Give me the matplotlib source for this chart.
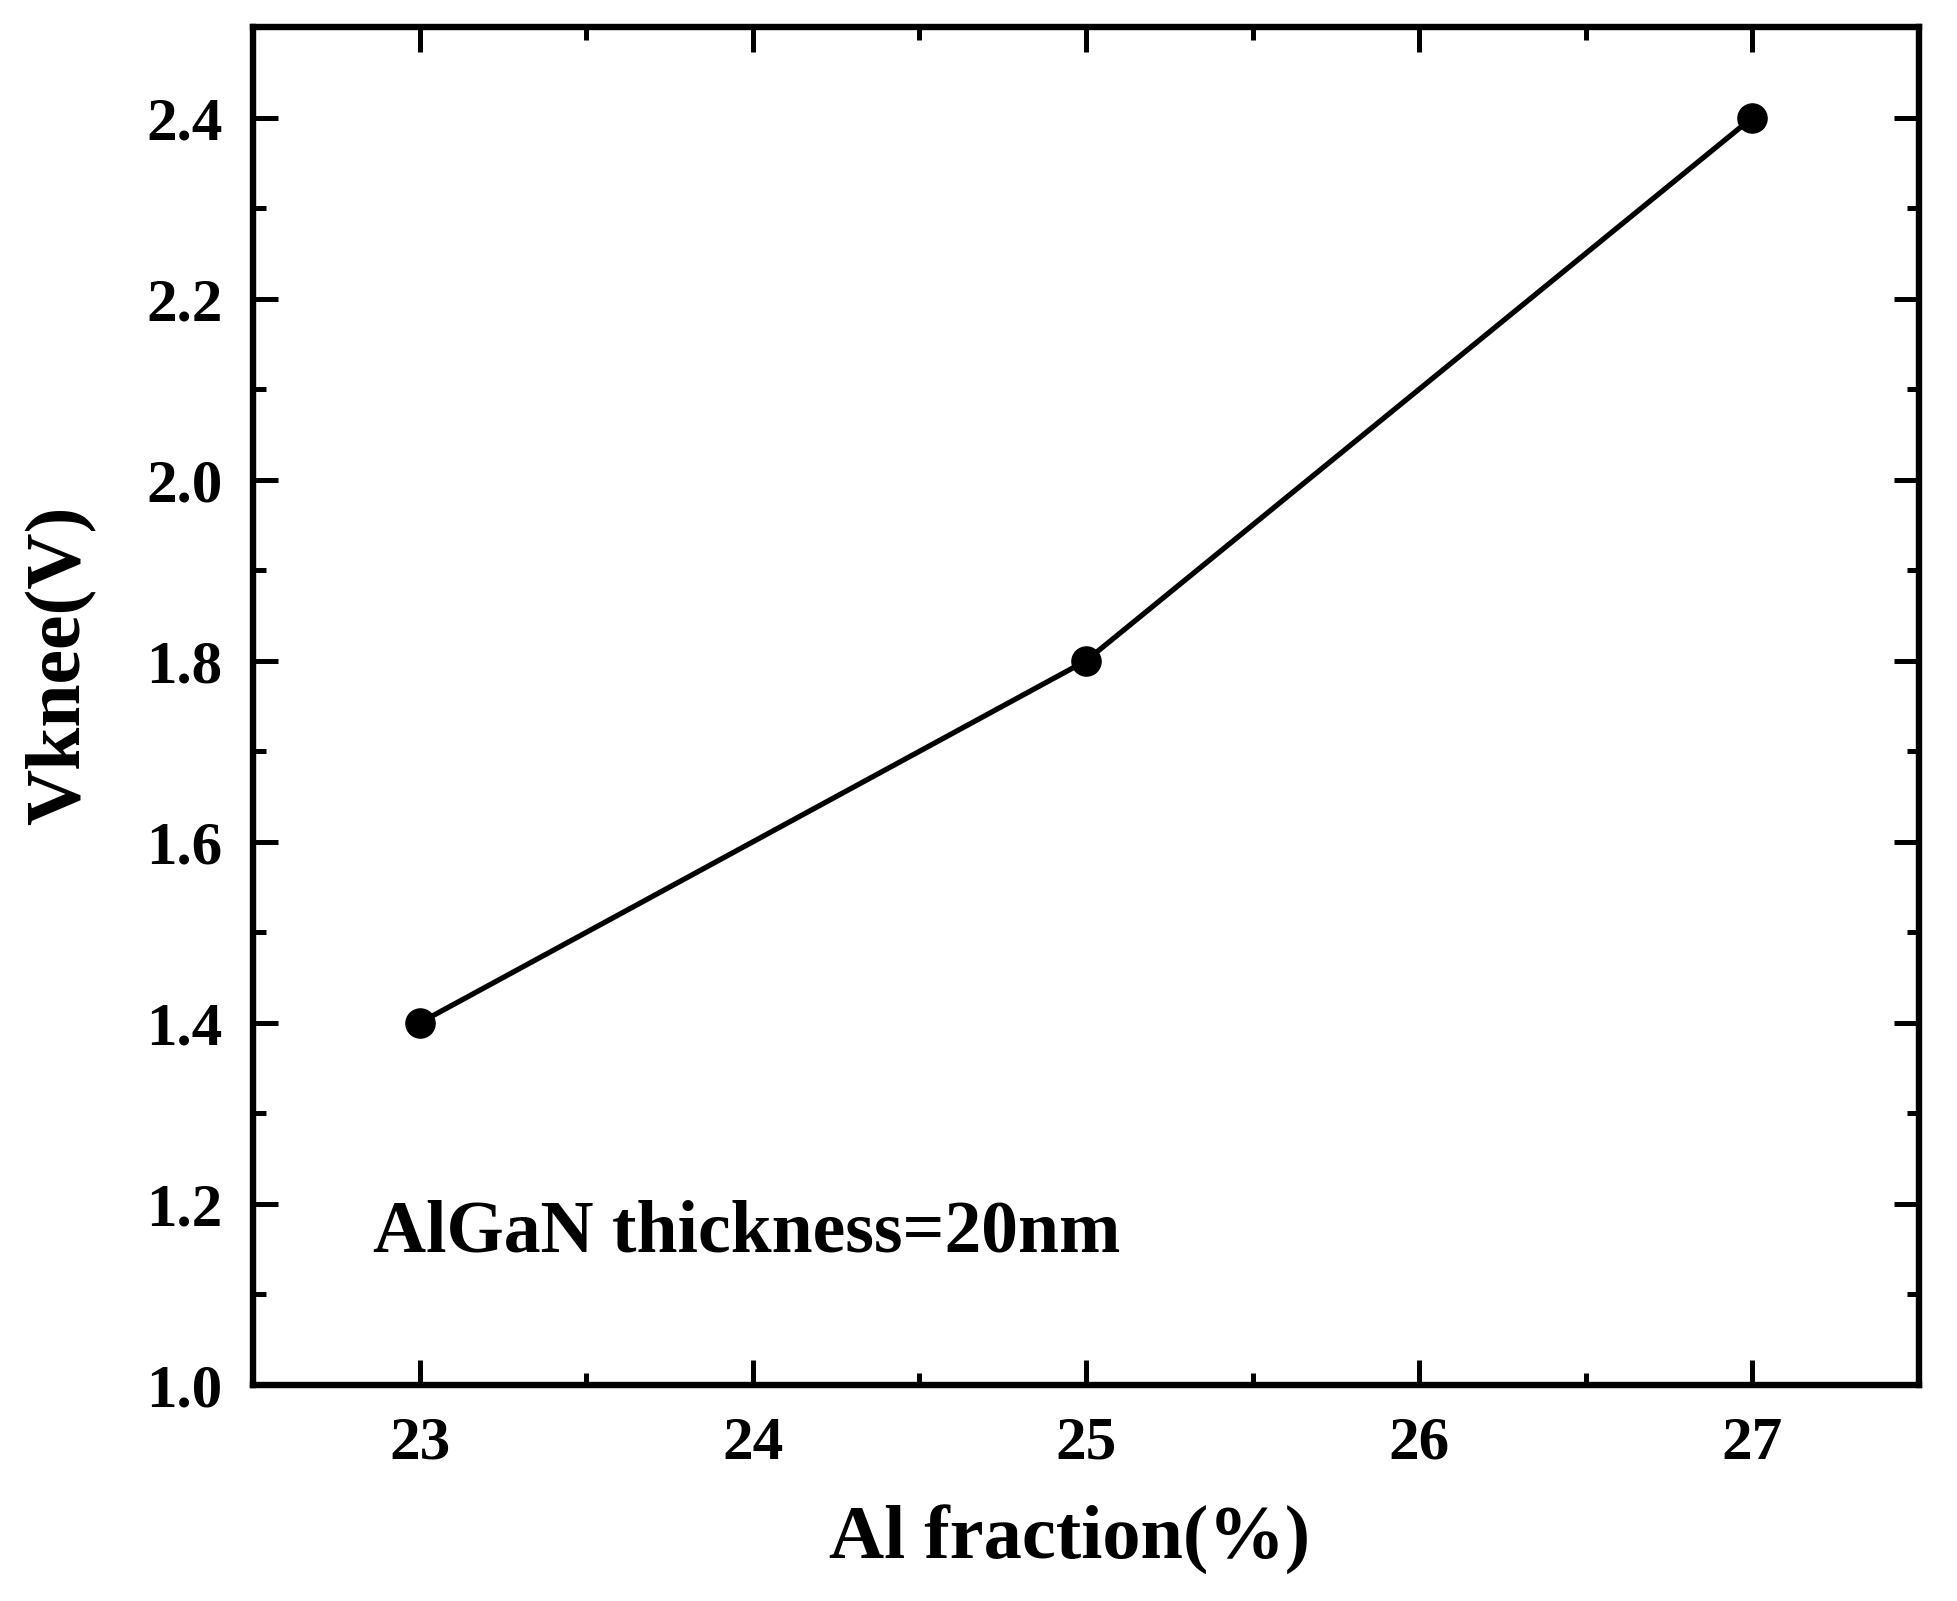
import matplotlib
matplotlib.use("Agg")
import matplotlib.pyplot as plt
from matplotlib.ticker import MultipleLocator

# Дані
al_fraction = [23, 25, 27]
vknee = [1.4, 1.8, 2.4]
x_ticks = [23, 24, 25, 26, 27]
y_ticks = [1.0, 1.2, 1.4, 1.6, 1.8, 2.0, 2.2, 2.4]

plt.rcParams["font.family"] = ["Liberation Serif", "DejaVu Serif"]
plt.rcParams["font.weight"] = "bold"

fig = plt.figure(figsize=(19.57, 16.01), dpi=100)
ax = fig.add_axes([0.1293, 0.1349, 0.8513, 0.8482])

ax.plot(al_fraction, vknee, "k-", linewidth=3.8, marker="o", markersize=21)

ax.set_xlim(22.5, 27.5)
ax.set_ylim(1.0, 2.5)
ax.set_xticks(x_ticks)
ax.set_yticks(y_ticks)
ax.set_xticklabels([str(v) for v in x_ticks])
ax.set_yticklabels([f"{v:.1f}" for v in y_ticks])
ax.xaxis.set_minor_locator(MultipleLocator(0.5))
ax.yaxis.set_minor_locator(MultipleLocator(0.1))

for s in ax.spines.values():
    s.set_linewidth(4.6)

ax.tick_params(which="both", direction="in", top=True, right=True, width=3.6)
ax.tick_params(which="major", length=18, labelsize=44, pad=22)
ax.tick_params(which="minor", length=9)

ax.set_xlabel("Al fraction(%)", fontsize=55, fontweight="bold")
ax.set_ylabel("Vknee(V)", fontsize=56, fontweight="bold")
ax.xaxis.set_label_coords(0.49, -0.088)
ax.yaxis.set_label_coords(-0.094, 0.53)

ax.text(22.86, 1.147, "AlGaN thickness=20nm", fontsize=53, fontweight="bold")

fig.savefig("out.png", dpi=100)
